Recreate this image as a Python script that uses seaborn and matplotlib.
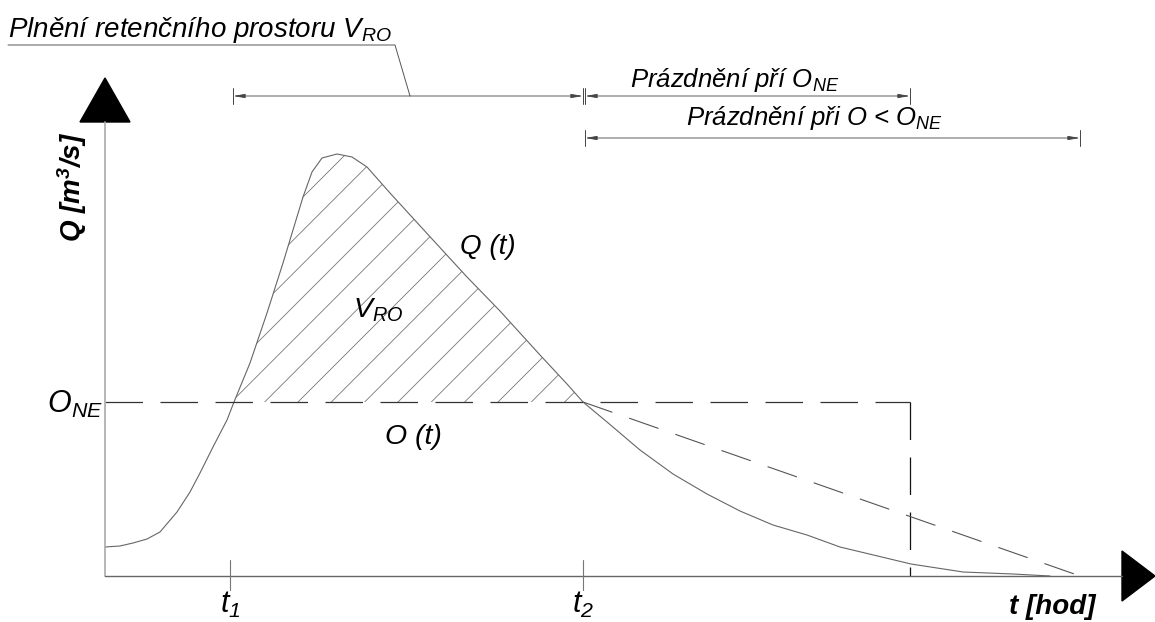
import numpy as np
import pandas as pd
import matplotlib
matplotlib.use('Agg')
import matplotlib.pyplot as plt
from matplotlib.patches import Polygon
import seaborn as sns

# hydrograph (t in drawing units, Q in drawing units)
q_t = [0, 15, 28, 42, 55, 72, 85, 95, 108, 122, 129, 145, 162, 178, 188, 198, 207,
       217, 232, 247, 262, 285, 328, 362, 395, 435, 462, 478, 502, 535, 568, 602,
       635, 668, 702, 735, 806, 858, 908, 945]
q_val = [29, 30, 33, 37, 44, 64, 84, 103, 129, 156, 174, 213, 263, 313, 346, 379, 404,
         418, 422, 419, 409, 383, 336, 299, 265, 221, 192, 174, 154, 126, 102, 82,
         65, 51, 41, 29, 12, 4, 2, 0]

o_ne = 174          # constant outflow level
t1 = 125
t2 = 478
t_empty_ne = 805    # end of emptying at O_NE
outflow_t = [t2, 975]
outflow_q = [o_ne, 0]

t_end = 1050
q_top = 454

sns.set_style('white')
plt.rcParams['font.family'] = ['Liberation Sans', 'DejaVu Sans']
plt.rcParams['mathtext.default'] = 'regular'
plt.rcParams['hatch.linewidth'] = 0.6

fig = plt.figure(figsize=(11.55, 6.22), dpi=100)
ax = fig.add_axes([0, 0, 1, 1])
ax.set_xlim(-105, 1050)
ax.set_ylim(-46, 576)
ax.axis('off')

df = pd.DataFrame({'t': q_t, 'Q': q_val})
sns.lineplot(data=df, x='t', y='Q', ax=ax, color='#666666', lw=0.8, estimator=None)

# hatched retention volume between t1 and t2
t_arr = np.array(q_t)
q_arr = np.array(q_val)
ax.fill_between(t_arr, o_ne, q_arr, where=(q_arr >= o_ne) & (t_arr <= t2),
                interpolate=True, facecolor='none', edgecolor='#777777',
                hatch='/', lw=0)

dash = (0, (30, 14))
ax.plot([0, t_empty_ne], [o_ne, o_ne], color='#333333', lw=0.9, linestyle=dash)
ax.plot([t_empty_ne, t_empty_ne], [o_ne, 0], color='#111111', lw=0.9, linestyle=dash)
ax.plot(outflow_t, outflow_q, color='#555555', lw=0.8, linestyle=(0, (28, 16)))

# axes with arrow heads
ax.plot([0, 0], [0, q_top], color='#aaaaaa', lw=1.2)
ax.plot([0, t_end - 33], [0, 0], color='#666666', lw=1.0)
ax.add_patch(Polygon([[-25, q_top], [25, q_top], [0, q_top + 44]], closed=True, color='black'))
ax.add_patch(Polygon([[t_end - 33, 25], [t_end - 33, -25], [t_end, 0]], closed=True, color='black'))

for tt in [t1, t2]:
    ax.plot([tt, tt], [16, -14], color='#777777', lw=0.8)

# dimension lines
def dim(x0, x1, y):
    ax.annotate('', xy=(x0, y), xytext=(x1, y),
                arrowprops=dict(arrowstyle='<|-|>,head_length=0.7,head_width=0.12',
                                color='#444444', lw=0.6, shrinkA=0, shrinkB=0))
    for xx in [x0, x1]:
        ax.plot([xx, xx], [y - 8, y + 8], color='#444444', lw=0.7)

dim(t1 + 3, t2, 480)
dim(t2 + 2, t_empty_ne, 480)
dim(t2 + 2, 975, 438)

# leader for title
ax.plot([-97, 290, 305], [531, 531, 480], color='#555555', lw=0.7)

txt = dict(style='italic', color='black')
ax.text(-97, 539, 'Plnění retenčního prostoru V$_{RO}$', fontsize=20, va='baseline', **txt)
ax.text(630, 489, 'Prázdnění pří O$_{NE}$', fontsize=18.5, va='baseline', ha='center', **txt)
ax.text(710, 451, 'Prázdnění při O < O$_{NE}$', fontsize=18.5, va='baseline', ha='center', **txt)
ax.text(355, 329, 'Q (t)', fontsize=20, va='center', **txt)
ax.text(248, 266, 'V$_{RO}$', fontsize=20.5, va='center', **txt)
ax.text(280, 139, 'O (t)', fontsize=20.5, va='center', **txt)
ax.text(-2, o_ne - 2, 'O$_{NE}$', fontsize=22, va='center', ha='right', **txt)
ax.text(t1, -29, 't$_1$', fontsize=22, va='center', ha='center', **txt)
ax.text(t2, -29, 't$_2$', fontsize=22, va='center', ha='center', **txt)
ax.text(947, -31, 't [hod]', fontsize=20, va='center', ha='center', weight='bold', **txt)
ax.text(-33, 389, 'Q [m$^3$/s]', fontsize=20, va='center', ha='center', rotation=90,
        weight='bold', **txt)

plt.savefig('out.png', dpi=100)
